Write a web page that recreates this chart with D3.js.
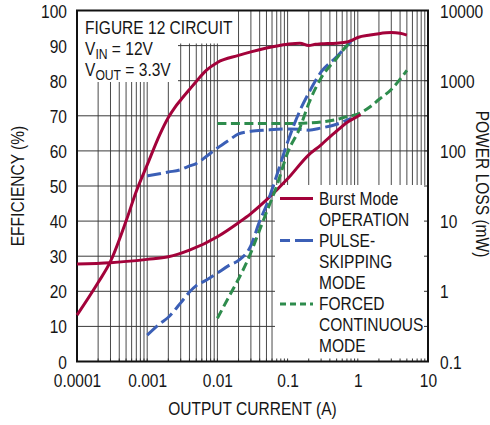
<!DOCTYPE html>
<html><head><meta charset="utf-8">
<script src="https://cdn.jsdelivr.net/npm/d3@7"></script>
<style>
html,body{margin:0;padding:0;background:#fff;}
svg{display:block;}
text{font-family:'Liberation Sans',Arial,sans-serif;fill:#161616;}
</style></head><body>
<svg id="chart" width="490" height="425"></svg>
<script>
// ---- axis ticks ----
const currentTicks = [0.0001, 0.001, 0.01, 0.1, 1, 10];
const currentTickLabels = ["0.0001", "0.001", "0.01", "0.1", "1", "10"];
const effTicks = [0, 10, 20, 30, 40, 50, 60, 70, 80, 90, 100];
const lossTicks = [0.1, 1, 10, 100, 1000, 10000];
const lossTickLabels = ["0.1", "1", "10", "100", "1000", "10000"];

// ---- series: efficiency (%) ----
const burstEffCurrent = [0.0001,0.0002,0.0003,0.0005,0.0007,0.001,0.0015,0.002,0.0025,0.003,0.004,0.005,0.007,0.01,0.02,0.03,0.05,0.1,0.15,0.2,0.25,0.3,0.5,0.7,0.8,1,1.5,2,3,4,5];
const burstEff = [13.2,22.5,28.5,40,48.5,56,64.5,69.5,72.5,74.5,77.5,79.8,83,85.2,87.2,88.2,89.3,90.4,90.7,90.0,90.4,90.5,90.7,91.0,91.4,92.3,93.0,93.4,93.7,93.5,93.0];

const pulseEffCurrent = [0.001,0.0015,0.002,0.003,0.004,0.005,0.007,0.01,0.015,0.02,0.03,0.04,0.05,0.07,0.1,0.15,0.2,0.3,0.5,0.7,0.8];
const pulseEff = [7.5,10.7,12.6,16.7,19.8,21.6,23.2,25.2,27.5,28.8,33,40,44.5,53,62.5,71.5,76.5,82.5,86.8,90,91.2];

const forcedEffCurrent = [0.01,0.015,0.02,0.03,0.04,0.05,0.07,0.1,0.15,0.2,0.3,0.5,0.7,0.85];
const forcedEff = [12.3,18.9,23.5,31,37.5,42.5,50,59.5,66.6,73.5,80.8,86.4,90,91.6];

// ---- series: power loss (mW) ----
const burstLossCurrent = [0.0001,0.0003,0.001,0.002,0.004,0.01,0.02,0.03,0.05,0.1,0.2,0.3,0.4,0.5,0.7,1,1.1];
const burstLoss = [2.45,2.55,2.85,3.1,3.85,6.0,9.5,12.8,20,40,88,122,159,192,254,312,330];

const pulseLossCurrent = [0.001,0.002,0.003,0.004,0.005,0.007,0.01,0.015,0.02,0.03,0.05,0.1,0.15,0.2,0.3,0.5,0.8];
const pulseLoss = [44,50,54,61,66,84,110,145,175,190,198,205,203,197,212,240,290];

const forcedLossCurrent = [0.01,0.05,0.1,0.2,0.3,0.5,0.7,1,1.5,2,3,4,5];
const forcedLoss = [245,245,245,250,258,280,308,335,426,540,750,1050,1400];

// ---- legend / annotation text ----
const legendLabels = [["Burst Mode","OPERATION"],["PULSE-","SKIPPING","MODE"],["FORCED","CONTINUOUS","MODE"]];
const colors = {burst:"#a3023a", pulse:"#3b5fb6", forced:"#2e8c4d"};

const svg = d3.select("#chart");
const L = 77, R = 428, T = 10.5, B = 361.5;
const SX = 0.84;          // condensed look
const fs = 18.5;

const x = d3.scaleLog().domain([1e-4, 10]).range([L, R]);
const y = d3.scaleLinear().domain([0, 100]).range([B, T]);
const yl = d3.scaleLog().domain([0.1, 10000]).range([B, T]);

function addText(px, py, str, rot, anchor) {
  return svg.append("text")
    .attr("transform", `translate(${px},${py})` + (rot ? ` rotate(${rot})` : "") + ` scale(${SX},1)`)
    .attr("text-anchor", anchor || "start")
    .style("font-size", fs + "px").text(str);
}

// grid
const minor = [];
for (let e = -4; e <= 0; e++) for (let m = 1; m <= 9; m++) { const v = m * Math.pow(10, e); if (v > 1e-4 && v < 10) minor.push(v); }
const grid = svg.append("g");
grid.selectAll("line.v").data(minor).enter().append("line")
  .attr("x1", d => x(d)).attr("x2", d => x(d)).attr("y1", T).attr("y2", B)
  .attr("stroke", "#4a4a4a").attr("stroke-width", 1);
grid.selectAll("line.h").data(effTicks.slice(1, -1)).enter().append("line")
  .attr("x1", L).attr("x2", R).attr("y1", d => y(d)).attr("y2", d => y(d))
  .attr("stroke", "#3a3a3a").attr("stroke-width", 1);

// knockout boxes
svg.append("rect").attr("x", L).attr("y", T).attr("width", 159).attr("height", 33).attr("fill", "#fff");
svg.append("rect").attr("x", L).attr("y", 42).attr("width", 101).attr("height", 40).attr("fill", "#fff");
svg.append("rect").attr("x", 275).attr("y", 185).attr("width", R - 275).attr("height", B - 185).attr("fill", "#fff");

// inward ticks
svg.append("g").selectAll("line").data(minor).enter().append("line")
  .attr("x1", d => x(d)).attr("x2", d => x(d)).attr("y1", B).attr("y2", B - 3)
  .attr("stroke", "#333").attr("stroke-width", 1);
svg.append("g").selectAll("line").data(effTicks.slice(1, -1)).enter().append("line")
  .attr("x1", R).attr("x2", R - 4).attr("y1", d => y(d)).attr("y2", d => y(d))
  .attr("stroke", "#333").attr("stroke-width", 1);

// frame
svg.append("rect").attr("x", L).attr("y", T).attr("width", R - L).attr("height", B - T)
  .attr("fill", "none").attr("stroke", "#111").attr("stroke-width", 2);

// axes (labels)
const bottomAxis = d3.axisBottom(x).tickValues(currentTicks).tickSize(0).tickPadding(0)
  .tickFormat((d, i) => currentTickLabels[i]);
const gb = svg.append("g").attr("transform", `translate(0,${B})`).call(bottomAxis);
gb.select(".domain").remove();
gb.selectAll("text").attr("y", null).attr("dy", null)
  .attr("transform", `translate(0,25.5) scale(${SX},1)`)
  .style("font-size", fs + "px").style("font-family", null).attr("fill", "#161616");

const leftAxis = d3.axisLeft(y).tickValues(effTicks).tickSize(0);
const gL = svg.append("g").attr("transform", `translate(${L},0)`).call(leftAxis);
gL.select(".domain").remove();
gL.selectAll("text").attr("x", null).attr("dy", null)
  .attr("transform", `translate(-10,6.5) scale(${SX},1)`)
  .style("font-size", fs + "px").style("font-family", null).attr("fill", "#161616");

const rightAxis = d3.axisRight(yl).tickValues(lossTicks).tickSize(0)
  .tickFormat((d, i) => lossTickLabels[i]);
const gR = svg.append("g").attr("transform", `translate(${R},0)`).call(rightAxis);
gR.select(".domain").remove();
gR.selectAll("text").attr("x", null).attr("dy", null)
  .attr("transform", `translate(12,6.5) scale(${SX},1)`)
  .style("font-size", fs + "px").style("font-family", null).attr("fill", "#161616");
svg.selectAll(".tick line").remove();

// curves
const lineEff = d3.line().x(d => x(d[0])).y(d => y(d[1])).curve(d3.curveMonotoneX);
const lineLoss = d3.line().x(d => x(d[0])).y(d => yl(d[1])).curve(d3.curveMonotoneX);
const zip = (a, b) => a.map((v, i) => [v, b[i]]);
const series = [
  {d: zip(forcedLossCurrent, forcedLoss), f: lineLoss, c: colors.forced, dash: "9,4.5"},
  {d: zip(pulseLossCurrent, pulseLoss), f: lineLoss, c: colors.pulse, dash: "14,5"},
  {d: zip(burstLossCurrent, burstLoss), f: lineLoss, c: colors.burst, dash: null},
  {d: zip(pulseEffCurrent, pulseEff), f: lineEff, c: colors.pulse, dash: "14,5"},
  {d: zip(forcedEffCurrent, forcedEff), f: lineEff, c: colors.forced, dash: "9,4.5"},
  {d: zip(burstEffCurrent, burstEff), f: lineEff, c: colors.burst, dash: null}
];
series.forEach(s => {
  svg.append("path").attr("d", s.f(s.d)).attr("fill", "none").attr("stroke", s.c)
    .attr("stroke-width", 3).attr("stroke-dasharray", s.dash);
});

// legend
const legY = [198.5, 240.5, 304];
const legC = [colors.burst, colors.pulse, colors.forced];
const legD = [null, "10,5,18", "6,4"];
const legText = [205, 247, 310];
legendLabels.forEach((lines, i) => {
  svg.append("line").attr("x1", 280).attr("x2", 313).attr("y1", legY[i]).attr("y2", legY[i])
    .attr("stroke", legC[i]).attr("stroke-width", 3).attr("stroke-dasharray", legD[i]);
  lines.forEach((t, j) => addText(319, legText[i] + j * 21, t));
});

// annotation
addText(85, 34, "FIGURE 12 CIRCUIT");
const a2 = addText(85, 55, "");
a2.append("tspan").text("V");
a2.append("tspan").attr("dy", 4).style("font-size", "14.5px").text("IN");
a2.append("tspan").attr("dy", -4).text(" = 12V");
const a3 = addText(85, 76, "");
a3.append("tspan").text("V");
a3.append("tspan").attr("dy", 4).style("font-size", "14.5px").text("OUT");
a3.append("tspan").attr("dy", -4).text(" = 3.3V");

// axis titles
addText(24, 186, "EFFICIENCY (%)", -90, "middle");
addText(476, 184, "POWER LOSS (mW)", 90, "middle");
addText(252.5, 415, "OUTPUT CURRENT (A)", 0, "middle");
</script>
</body></html>
